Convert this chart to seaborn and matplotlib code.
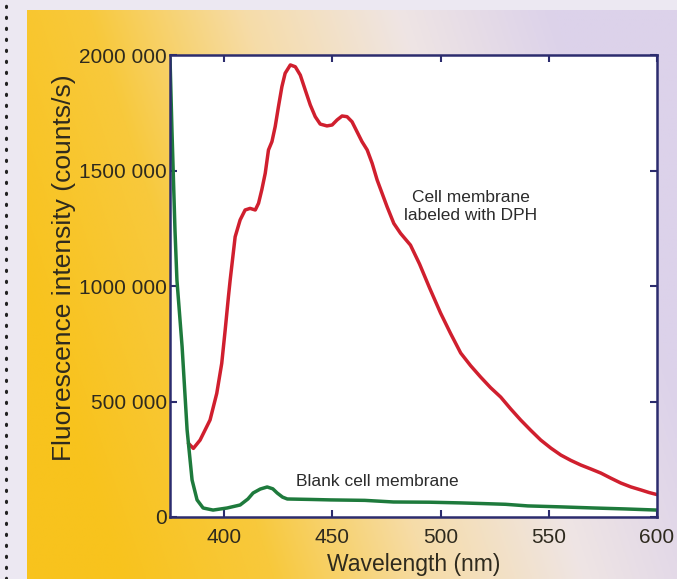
import numpy as np
import pandas as pd
import matplotlib
matplotlib.use("Agg")
import matplotlib.pyplot as plt
from matplotlib.lines import Line2D
from matplotlib.colors import to_rgb
import seaborn as sns

# DPH-labelled membrane spectrum
wl_dph = [383.5, 385.8, 388.9, 393.5, 396.6, 398.9, 400.5, 402.0, 402.8, 405.1,
          407.4, 409.7, 412.0, 414.4, 415.9, 417.4, 419.0, 420.5, 422.1, 423.6,
          425.1, 426.7, 428.2, 430.6, 432.9, 435.2, 437.5, 439.8, 442.1, 444.4,
          447.5, 449.9, 452.2, 454.5, 456.8, 459.1, 461.4, 463.7, 466.1, 468.4,
          470.7, 473.0, 475.3, 478.4, 481.5, 486.1, 490.3, 495.0, 500.0, 504.6,
          509.3, 513.9, 518.5, 523.1, 527.8, 532.4, 537.0, 541.7, 546.3, 551.0,
          555.6, 560.2, 564.8, 569.4, 574.1, 578.7, 583.3, 588.0, 592.6, 596.3,
          600.0]
int_dph = [319e3, 297e3, 333e3, 420e3, 535e3, 665e3, 810e3, 954e3, 1026e3, 1213e3,
           1286e3, 1329e3, 1336e3, 1329e3, 1358e3, 1416e3, 1488e3, 1589e3, 1625e3, 1690e3,
           1776e3, 1863e3, 1921e3, 1957e3, 1949e3, 1913e3, 1848e3, 1784e3, 1733e3, 1701e3,
           1693e3, 1697e3, 1719e3, 1736e3, 1733e3, 1711e3, 1668e3, 1625e3, 1589e3, 1531e3,
           1459e3, 1401e3, 1343e3, 1271e3, 1228e3, 1177e3, 1095e3, 990e3, 883e3, 795e3,
           710e3, 655e3, 606e3, 560e3, 519e3, 468e3, 420e3, 375e3, 333e3, 298e3,
           268e3, 245e3, 225e3, 208e3, 190e3, 168e3, 147e3, 130e3, 117e3, 106e3,
           97e3]

# blank membrane
wl_blank = [375.0, 375.9, 377.3, 378.2, 380.6, 382.9, 385.2, 387.5, 390.3, 394.9,
            401.4, 407.4, 411.0, 413.4, 416.7, 419.9, 422.5, 424.5, 427.0, 429.2,
            440.0, 449.1, 465.0, 478.2, 495.0, 509.3, 520.0, 530.0, 540.3, 555.0,
            570.8, 585.0, 600.0]
int_blank = [1987e3, 1675e3, 1242e3, 1026e3, 736e3, 377e3, 160e3, 74e3, 39e3, 30e3,
             39e3, 52e3, 78e3, 104e3, 121e3, 130e3, 122e3, 104e3, 86e3, 78e3,
             76e3, 74e3, 72e3, 65e3, 64e3, 61e3, 58e3, 55e3, 48e3, 44e3,
             39e3, 35e3, 30e3]

x_ticks = [400, 450, 500, 550, 600]
y_ticks = [0, 500000, 1000000, 1500000, 2000000]
y_tick_labels = ["0", "500 000", "1000 000", "1500 000", "2000 000"]

df_dph = pd.DataFrame({"wl": wl_dph, "I": int_dph})
df_blank = pd.DataFrame({"wl": wl_blank, "I": int_blank})

sns.set_theme(style="ticks")
plt.rcParams["font.family"] = ["Liberation Sans", "DejaVu Sans"]

W, H = 677, 579
fig = plt.figure(figsize=(W / 100, H / 100), dpi=100)
fig.patch.set_facecolor("#ece8f2")

# background panel gradient
bg = fig.add_axes([27 / W, 0, 1 - 27 / W, (H - 10) / H], zorder=-2)
nx, ny = 300, 150
xx, yy = np.meshgrid(np.linspace(0, 1, nx), np.linspace(1, 0, ny))
s = np.clip(1.05 * xx + 0.3 * yy - 0.15, 0, 1)
stops = [0, 0.25, 0.5, 0.75, 1.0]
cols = [to_rgb(c) for c in ["#f8c31d", "#f8c93c", "#f6dca8", "#efe5e4", "#dcd2ea"]]
img = np.zeros((ny, nx, 3))
for k in range(3):
    img[..., k] = np.interp(s, stops, [c[k] for c in cols])
bg.imshow(img, aspect="auto", extent=[0, 1, 0, 1])
bg.axis("off")

# dotted edge on the left
fig.add_artist(Line2D([6 / W, 6 / W], [0, 1], transform=fig.transFigure,
                      color="#222222", lw=2.2, linestyle=(0, (0.4, 3.2)),
                      dash_capstyle="round"))

ax = fig.add_axes([170 / W, 1 - 517 / H, 487 / W, 462 / H])
ax.set_facecolor("white")

sns.lineplot(data=df_dph, x="wl", y="I", ax=ax, color="#d01f2e", lw=2.5,
             estimator=None)
sns.lineplot(data=df_blank, x="wl", y="I", ax=ax, color="#1e7a3c", lw=2.5,
             estimator=None)

ax.set_xlim(375, 600)
ax.set_ylim(0, 2000000)
ax.set_xticks(x_ticks)
ax.set_yticks(y_ticks)
ax.set_yticklabels(y_tick_labels)

txt = "#2e2a1e"
ax.tick_params(direction="in", length=5, width=1.5, color="#2c2c6e",
               top=True, right=True, labelsize=15, labelcolor=txt)
ax.tick_params(axis="x", pad=8)
ax.tick_params(axis="y", pad=2)
for sp in ax.spines.values():
    sp.set_color("#2c2c6e")
    sp.set_linewidth(1.8)

ax.set_xlabel("Wavelength (nm)", fontsize=16.5, color=txt)
ax.set_ylabel("Fluorescence intensity (counts/s)", fontsize=19, color=txt)
ax.xaxis.set_label_coords(0.5, -0.078)
ax.yaxis.set_label_coords(-0.193, 0.539)

ax.text(513.9, 1342000, "Cell membrane\nlabeled with DPH", ha="center",
        va="center", fontsize=12.5, color="#2b2b2b", linespacing=1.25)
ax.text(470.8, 152000, "Blank cell membrane", ha="center", va="center",
        fontsize=12.5, color="#2b2b2b")

plt.savefig("out.png", dpi=100)
